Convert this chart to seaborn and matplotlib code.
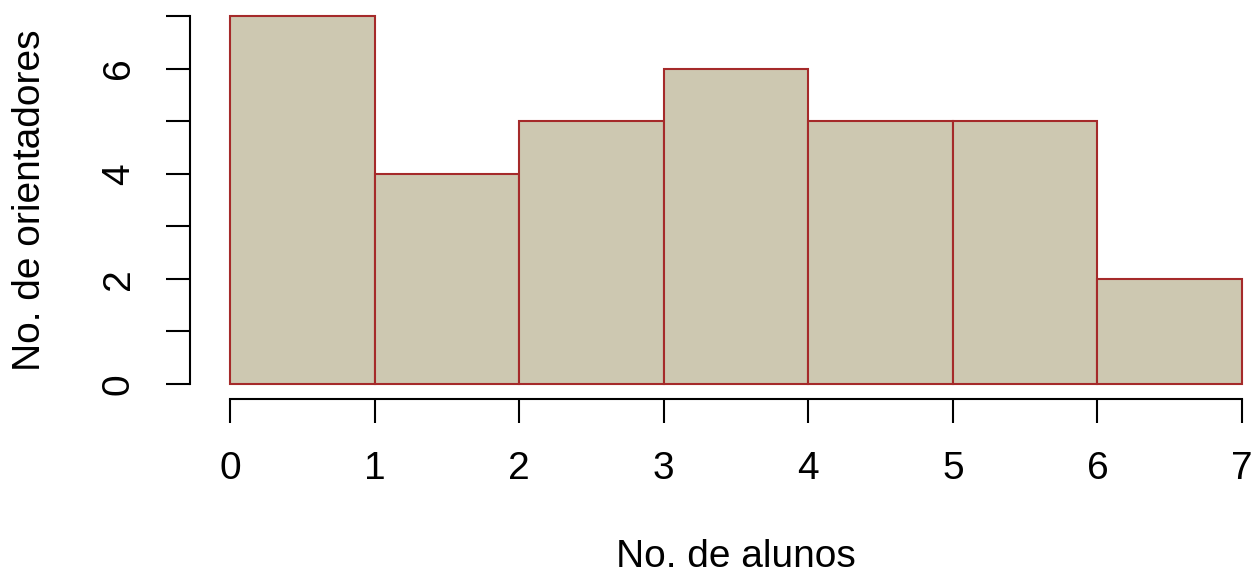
import matplotlib
matplotlib.use("Agg")
import matplotlib.pyplot as plt
import seaborn as sns
import numpy as np

# Number of students per advisor (bin start) and how many advisors fall in each bin
alunos = [0, 1, 2, 3, 4, 5, 6]
orientadores = [7, 4, 5, 6, 5, 5, 2]
bin_edges = [0, 1, 2, 3, 4, 5, 6, 7]
x_ticks = [0, 1, 2, 3, 4, 5, 6, 7]
y_ticks = [0, 1, 2, 3, 4, 5, 6, 7]
y_ticklabels = ["0", "", "2", "", "4", "", "6", ""]

sns.set_style("white")
plt.rcParams["font.family"] = ["Liberation Sans", "DejaVu Sans"]
plt.rcParams["text.color"] = "black"

W, H = 1254, 575
fig = plt.figure(figsize=(W / 100, H / 100), dpi=100)

# plot region in pixels (R-style, 4% padding around the data range)
left_px, right_px, top_px, bottom_px = 189.5, 1282.5, 1.3, 398.7
ax = fig.add_axes([left_px / W, 1 - bottom_px / H,
                   (right_px - left_px) / W, (bottom_px - top_px) / H])

sns.histplot(x=alunos, weights=orientadores, bins=bin_edges, ax=ax,
             color="#CDC8B1", edgecolor="#A52A2A", linewidth=1.5, alpha=1)

ax.set_xlim(-0.28, 7.28)
ax.set_ylim(-0.28, 7.28)

for side in ["top", "right"]:
    ax.spines[side].set_visible(False)
ax.spines["bottom"].set_bounds(0, 7)
ax.spines["left"].set_bounds(0, 7)
for side in ["bottom", "left"]:
    ax.spines[side].set_linewidth(1.5)
    ax.spines[side].set_color("black")

ax.set_xticks(x_ticks)
ax.set_xticklabels([str(t) for t in x_ticks])
ax.set_yticks(y_ticks)
ax.set_yticklabels(y_ticklabels, rotation=90, va="center")

ax.tick_params(axis="both", direction="out", length=17, width=1.5,
               labelsize=28, colors="black", bottom=True, left=True)
ax.tick_params(axis="x", pad=21)
ax.tick_params(axis="y", pad=21)

ax.set_xlabel("")
ax.set_ylabel("")

fig.text(736 / W, 1 - 567 / H, "No. de alunos", ha="center", va="baseline",
         fontsize=28, color="black")
fig.text(40 / W, 1 - 200 / H, "No. de orientadores", ha="center",
         va="baseline", rotation=90, rotation_mode="anchor", fontsize=28,
         color="black")

fig.savefig("out.png", dpi=100)
